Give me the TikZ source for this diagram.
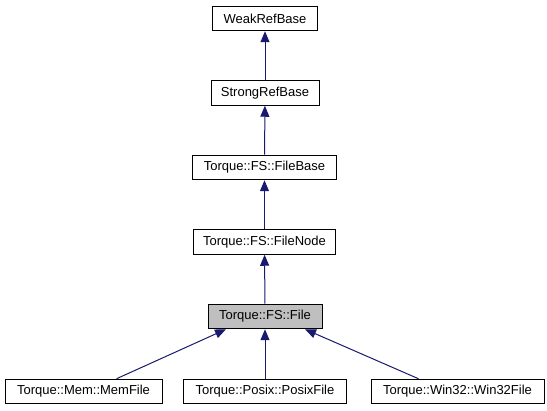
\documentclass[tikz,border=0pt]{standalone}
\usepackage{fontspec}
\setmainfont{Liberation Sans}
\usetikzlibrary{arrows.meta,calc}
\definecolor{edgeblue}{HTML}{191970}
\definecolor{curgray}{HTML}{BFBFBF}
\begin{document}
\begin{tikzpicture}[x=1pt,y=-1pt,
  cls/.style={draw=black,line width=1pt,fill=white,minimum height=24.5pt,inner sep=0pt,
    font=\fontsize{13}{15}\selectfont},
  cur/.style={cls,fill=curgray},
  edge/.style={draw=edgeblue,line width=1pt,-{Triangle[length=11pt,width=9pt]}}]
\useasboundingbox (0,0) rectangle (547,411);
\node[cls,minimum width=105pt] (weak) at (265,18.5) {WeakRefBase};
\node[cls,minimum width=108pt] (strong) at (265,93) {StrongRefBase};
\node[cls,minimum width=144pt] (fbase) at (264.5,167.5) {Torque::FS::FileBase};
\node[cls,minimum width=142pt] (fnode) at (264.5,242) {Torque::FS::FileNode};
\node[cur,minimum width=114pt] (file) at (265,316.5) {Torque::FS::File};
\node[cls,minimum width=157pt] (mem) at (83.5,391.5) {Torque::Mem::MemFile};
\node[cls,minimum width=163pt] (posix) at (265,391.5) {Torque::Posix::PosixFile};
\node[cls,minimum width=173pt] (win) at (457.5,391.5) {Torque::Win32::Win32File};
\draw[edge] (strong) -- (weak);
\draw[edge] (fbase) -- (strong);
\draw[edge] (fnode) -- (fbase);
\draw[edge] (file) -- (fnode);
\draw[edge] (posix) -- (file);
\draw[edge] ($(mem.north)+(33,0)$) -- ($(file.south)+(-39,0)$);
\draw[edge] ($(win.north)+(-39,0)$) -- ($(file.south)+(40,0)$);
\end{tikzpicture}
\end{document}
